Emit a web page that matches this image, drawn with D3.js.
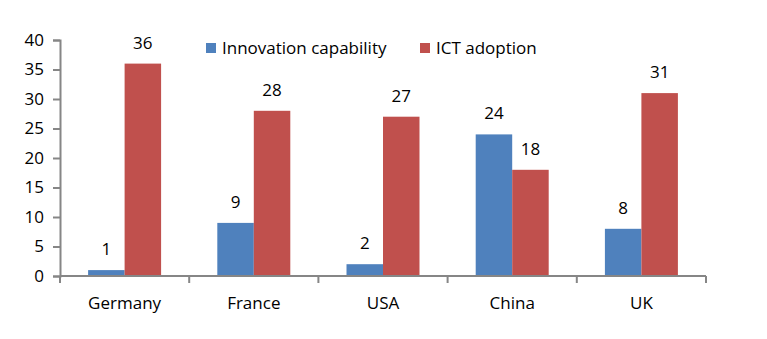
<!DOCTYPE html>
<html>
<head>
<meta charset="utf-8">
<script src="https://cdn.jsdelivr.net/npm/d3@7"></script>
<style>
  body { margin: 0; background: #fff; }
  text { font-family: "Open Sans", "Liberation Sans", sans-serif; fill: #000; }
</style>
</head>
<body>
<script>
var countries = ["Germany", "France", "USA", "China", "UK"];
var seriesNames = ["Innovation capability", "ICT adoption"];
var innovation = [1, 9, 2, 24, 8];
var ictAdoption = [36, 28, 27, 18, 31];
var yTicks = [0, 5, 10, 15, 20, 25, 30, 35, 40];

var width = 767, height = 339;
var margin = {top: 40, right: 61, bottom: 63, left: 60};
var innerWidth = width - margin.left - margin.right;
var innerHeight = height - margin.top - margin.bottom;
var colors = ["#4F81BD", "#C0504D"];
var axisColor = "#868686";
var fontSize = "17px";

// flat list of bar records
var bars = [];
countries.forEach(function(c, i) {
  bars.push({country: c, s: 0, value: innovation[i]});
  bars.push({country: c, s: 1, value: ictAdoption[i]});
});

var svg = d3.select("body").append("svg")
  .attr("width", width)
  .attr("height", height);

var g = svg.append("g")
  .attr("transform", "translate(" + margin.left + "," + margin.top + ")");

var x = d3.scaleBand()
  .domain(countries)
  .range([0, innerWidth]);

var xInner = d3.scaleBand()
  .domain([0, 1])
  .range([0, x.bandwidth()])
  .paddingOuter(0.77)
  .paddingInner(0);

var y = d3.scaleLinear()
  .domain([0, 40])
  .range([innerHeight, 0]);

function barX(d) { return x(d.country) + xInner(d.s); }

// bars
g.selectAll(".bar")
  .data(bars)
  .enter().append("rect")
  .attr("class", "bar")
  .attr("x", barX)
  .attr("y", function(d) { return y(d.value); })
  .attr("width", xInner.bandwidth())
  .attr("height", function(d) { return innerHeight - y(d.value); })
  .attr("fill", function(d) { return colors[d.s]; });

// value labels
g.selectAll(".lbl")
  .data(bars)
  .enter().append("text")
  .attr("class", "lbl")
  .attr("x", function(d) { return barX(d) + xInner.bandwidth() / 2; })
  .attr("y", function(d) { return y(d.value) - 15; })
  .attr("text-anchor", "middle")
  .style("font-size", fontSize)
  .text(function(d) { return d.value; });

// y axis
var yAxis = g.append("g")
  .call(d3.axisLeft(y).tickValues(yTicks).tickSize(7).tickPadding(9));
yAxis.select(".domain").attr("stroke", axisColor).attr("stroke-width", 2);
yAxis.selectAll(".tick line").attr("stroke", axisColor).attr("stroke-width", 2);
yAxis.selectAll(".tick text").style("font-size", fontSize).attr("fill", "#000")
  .style("font-family", "'Open Sans', 'Liberation Sans', sans-serif");

// x axis
var xAxisG = g.append("g")
  .attr("transform", "translate(0," + innerHeight + ")");
xAxisG.append("line")
  .attr("x1", 0).attr("x2", innerWidth)
  .attr("stroke", axisColor).attr("stroke-width", 2);
var xTickPos = countries.map(function(c) { return x(c); }).concat([innerWidth]);
xAxisG.selectAll(".xt")
  .data(xTickPos)
  .enter().append("line")
  .attr("x1", function(d) { return d; })
  .attr("x2", function(d) { return d; })
  .attr("y1", 0).attr("y2", 7)
  .attr("stroke", axisColor).attr("stroke-width", 2);
xAxisG.selectAll(".xl")
  .data(countries)
  .enter().append("text")
  .attr("x", function(d) { return x(d) + x.bandwidth() / 2; })
  .attr("y", 33)
  .attr("text-anchor", "middle")
  .style("font-size", fontSize)
  .text(function(d) { return d; });

// legend
var legendX = [206, 420];
var legend = svg.selectAll(".leg")
  .data(seriesNames)
  .enter().append("g")
  .attr("class", "leg")
  .attr("transform", function(d, i) { return "translate(" + legendX[i] + ",43)"; });
legend.append("rect")
  .attr("width", 10).attr("height", 10)
  .attr("fill", function(d, i) { return colors[i]; });
legend.append("text")
  .attr("x", 16).attr("y", 11)
  .style("font-size", fontSize)
  .text(function(d) { return d; });
</script>
</body>
</html>
